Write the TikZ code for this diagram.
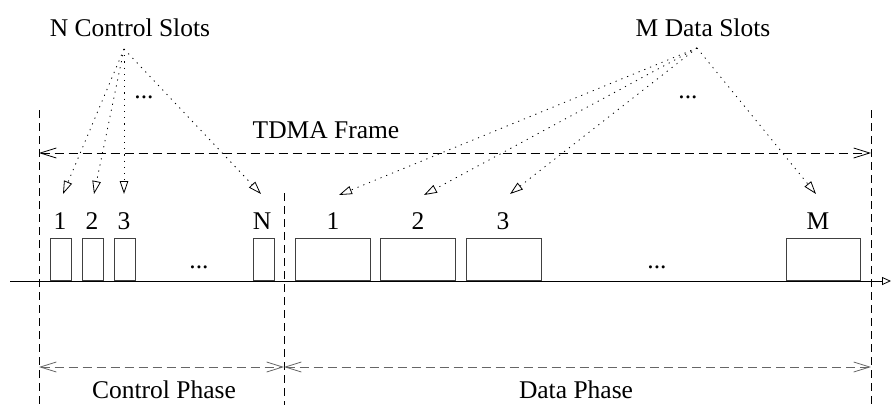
\documentclass[tikz,border=0pt]{standalone}
\usepackage{fontspec}
\setmainfont{Liberation Serif}
\usetikzlibrary{arrows.meta}
\begin{document}
\begin{tikzpicture}[x=1pt,y=-1pt,
  lbl/.style={font=\fontsize{25.5}{28}\selectfont, inner sep=0pt},
  slotbox/.style={draw=black!75, line width=0.9pt, anchor=south west, inner sep=0pt, minimum height=42pt},
  vdash/.style={line width=0.8pt, dash pattern=on 8pt off 5pt},
  span/.style={line width=0.8pt, dash pattern=on 9pt off 5pt, {Straight Barb[length=16pt,width=10pt]}-{Straight Barb[length=16pt,width=10pt]}},
  phase/.style={span, draw=black!60},
  pointer/.style={line width=0.8pt, dash pattern=on 1.2pt off 5pt, -{Triangle[open,length=13pt,width=8.5pt,line width=0.8pt]}}
]
\useasboundingbox (0,0) rectangle (891,405);

% vertical guides
\coordinate (vlT) at (39,110);  \coordinate (vlB) at (39,405);
\coordinate (vmT) at (284,193); \coordinate (vmB) at (284,405);
\coordinate (vrT) at (871,110); \coordinate (vrB) at (871,405);
\draw[vdash] (vlT) -- (vlB);
\draw[vdash] (vmT) -- (vmB);
\draw[vdash] (vrT) -- (vrB);

% TDMA frame
\coordinate (fL) at (39,153); \coordinate (fR) at (871,153);
\draw[span] (fL) -- (fR);
\node[lbl] (tdma) at (326,130) {TDMA Frame};

% time axis
\coordinate (axL) at (10,281); \coordinate (axR) at (891,281);
\draw[line width=0.8pt, -{Triangle[open,length=9pt,width=8pt,line width=0.8pt]}] (axL) -- (axR);

% control slots
\node[slotbox, minimum width=21pt] (c1) at (49.5,281) {};
\node[slotbox, minimum width=21pt] (c2) at (81.5,281) {};
\node[slotbox, minimum width=21.5pt] (c3) at (113.5,281) {};
\node[slotbox, minimum width=21pt] (cN) at (252.5,281) {};
\node[lbl] (cdots) at (199,267) {...};
\node[lbl] (lc1) at (60,221) {1};
\node[lbl] (lc2) at (92,221) {2};
\node[lbl] (lc3) at (124,221) {3};
\node[lbl] (lcN) at (262,221) {N};

% data slots
\node[slotbox, minimum width=75pt] (d1) at (295,281) {};
\node[slotbox, minimum width=75pt] (d2) at (380,281) {};
\node[slotbox, minimum width=75pt] (d3) at (465.5,281) {};
\node[slotbox, minimum width=74.5pt] (dM) at (785.5,281) {};
\node[lbl] (ddots) at (657,267) {...};
\node[lbl] (ld1) at (333,221) {1};
\node[lbl] (ld2) at (418,221) {2};
\node[lbl] (ld3) at (503,221) {3};
\node[lbl] (ldM) at (818,221) {M};

% top labels and pointers
\node[lbl] (ncs) at (130,28) {N Control Slots};
\coordinate (ns) at (124,49);
\coordinate (tc1) at (63,194);
\coordinate (tc2) at (94,194);
\coordinate (tc3) at (124,194);
\coordinate (tcN) at (261,194);
\draw[pointer] (ns) -- (tc1);
\draw[pointer] (ns) -- (tc2);
\draw[pointer] (ns) -- (tc3);
\draw[pointer] (ns) -- (tcN);
\node[lbl] (ndots) at (144,97) {...};

\node[lbl] (mds) at (703,28) {M Data Slots};
\coordinate (ms) at (697,48);
\coordinate (td1) at (339,195);
\coordinate (td2) at (424,195);
\coordinate (td3) at (510,194);
\coordinate (tdM) at (816,194);
\draw[pointer] (ms) -- (td1);
\draw[pointer] (ms) -- (td2);
\draw[pointer] (ms) -- (td3);
\draw[pointer] (ms) -- (tdM);
\node[lbl] (mdots) at (688,97) {...};

% phases
\coordinate (pL) at (39,367); \coordinate (pM) at (284,367); \coordinate (pR) at (871,367);
\draw[phase] (pL) -- (pM);
\draw[phase] (pM) -- (pR);
\node[lbl] (cph) at (164,390) {Control Phase};
\node[lbl] (dph) at (576,390) {Data Phase};
\end{tikzpicture}
\end{document}
